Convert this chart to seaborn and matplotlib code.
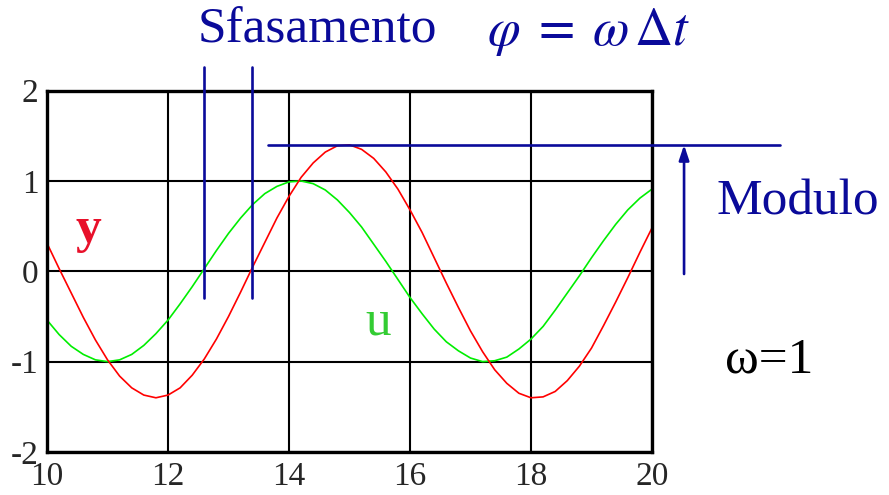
import matplotlib
matplotlib.use("Agg")
import matplotlib.pyplot as plt
import seaborn as sns
import pandas as pd

# time samples (step 0.2)
t = [10.0, 10.2, 10.4, 10.6, 10.8, 11.0, 11.2, 11.4, 11.6, 11.8,
     12.0, 12.2, 12.4, 12.6, 12.8, 13.0, 13.2, 13.4, 13.6, 13.8,
     14.0, 14.2, 14.4, 14.6, 14.8, 15.0, 15.2, 15.4, 15.6, 15.8,
     16.0, 16.2, 16.4, 16.6, 16.8, 17.0, 17.2, 17.4, 17.6, 17.8,
     18.0, 18.2, 18.4, 18.6, 18.8, 19.0, 19.2, 19.4, 19.6, 19.8, 20.0]

# input u
u = [-0.54, -0.70, -0.83, -0.92, -0.98, -1.00, -0.98, -0.92, -0.82, -0.69,
     -0.54, -0.36, -0.17, 0.03, 0.23, 0.42, 0.59, 0.74, 0.86, 0.94,
     0.99, 1.00, 0.97, 0.90, 0.79, 0.65, 0.49, 0.30, 0.11, -0.09,
     -0.29, -0.47, -0.64, -0.78, -0.88, -0.96, -1.00, -0.99, -0.95, -0.86,
     -0.75, -0.61, -0.43, -0.24, -0.05, 0.15, 0.34, 0.52, 0.68, 0.81, 0.91]

# output y
y = [0.31, 0.03, -0.24, -0.51, -0.76, -0.98, -1.16, -1.29, -1.37, -1.40,
     -1.37, -1.29, -1.15, -0.97, -0.75, -0.50, -0.23, 0.05, 0.32, 0.59,
     0.83, 1.04, 1.20, 1.32, 1.39, 1.40, 1.35, 1.25, 1.10, 0.91,
     0.68, 0.43, 0.15, -0.13, -0.40, -0.66, -0.89, -1.09, -1.24, -1.35,
     -1.40, -1.39, -1.33, -1.21, -1.05, -0.85, -0.60, -0.34, -0.07, 0.21, 0.48]

x_ticks = [10, 12, 14, 16, 18, 20]
y_ticks = [-2, -1, 0, 1, 2]

# annotation values
t_u_zero = 12.60
t_y_zero = 13.39
modulo = 1.40

sns.set_style("white")
plt.rcParams["font.family"] = ["Liberation Serif", "DejaVu Serif"]
plt.rcParams["mathtext.fontset"] = "stix"

fig = plt.figure(figsize=(8.89, 4.95), dpi=100)
ax = fig.add_axes([0.0529, 0.0869, 0.6805, 0.7300])

df = pd.DataFrame({"t": t, "u": u, "y": y})
sns.lineplot(data=df, x="t", y="u", ax=ax, color="#00ee00", linewidth=1.2)
sns.lineplot(data=df, x="t", y="y", ax=ax, color="#ff0000", linewidth=1.2)

ax.set_xlim(10, 20)
ax.set_ylim(-2, 2)
ax.set_xticks(x_ticks)
ax.set_yticks(y_ticks)
ax.set_xticklabels([str(v) for v in x_ticks], fontsize=24)
ax.set_yticklabels([str(v) for v in y_ticks], fontsize=24)
ax.tick_params(axis="y", length=0, pad=6)
ax.tick_params(axis="x", length=0, pad=6.5)
ax.set_xlabel("")
ax.set_ylabel("")
ax.grid(True, color="black", linewidth=1.5)
for s in ax.spines.values():
    s.set_color("black")
    s.set_linewidth(2.4)
    s.set_visible(True)

navy = "#0a0a9a"
# phase-shift markers
for xv in (t_u_zero, t_y_zero):
    ax.plot([xv, xv], [2.26, -0.29], color=navy, linewidth=1.9,
            clip_on=False, zorder=5)
# amplitude line and arrow
ax.plot([13.65, 22.12], [modulo, modulo], color=navy, linewidth=1.9,
        clip_on=False, zorder=5)
ax.annotate("", xy=(20.53, modulo), xytext=(20.53, -0.03),
            xycoords="data", textcoords="data", annotation_clip=False,
            arrowprops=dict(arrowstyle="-|>,head_length=0.9,head_width=0.3",
                            color=navy, linewidth=1.9, shrinkA=0, shrinkB=0))

fig.text(198 / 889, 1 - 30 / 495, "Sfasamento", color=navy, fontsize=37,
         ha="left", va="center")
fig.text(487 / 889, 1 - 32 / 495, r"$\varphi\;=\;\omega\,\Delta t$", color=navy,
         fontsize=38, ha="left", va="center")
fig.text(717 / 889, 1 - 202 / 495, "Modulo", color=navy, fontsize=37,
         ha="left", va="center")
fig.text(725 / 889, 1 - 360 / 495, "\u03c9=1", color="black", fontsize=37,
         ha="left", va="center")
fig.text(76 / 889, 1 - 230 / 495, "y", color="#e8102a", fontsize=37,
         fontweight="bold", ha="left", va="center")
fig.text(365 / 889, 1 - 322 / 495, "u", color="#33cc33", fontsize=37,
         ha="left", va="center")

fig.savefig("out.png", dpi=100, facecolor="white")
